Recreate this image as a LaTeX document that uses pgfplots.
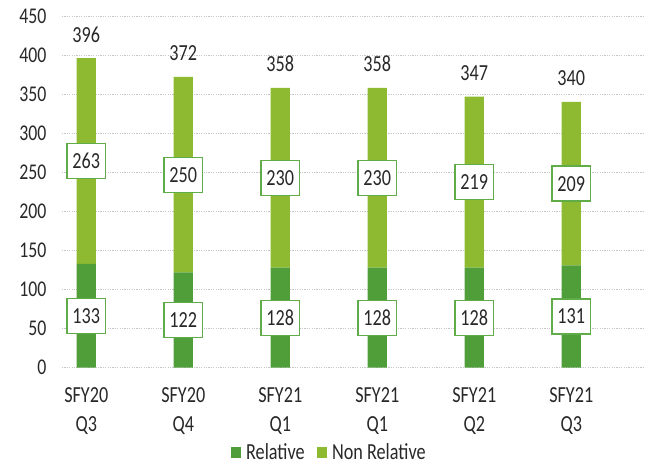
\documentclass[border=0pt]{standalone}
\usepackage{fontspec}
\setmainfont{Carlito}[FakeStretch=0.79]
\usepackage{pgfplots}
\pgfplotsset{compat=1.18}
\usepackage{pgfplotstable}
\usetikzlibrary{calc}
\definecolor{dg}{RGB}{80,158,58}
\definecolor{lg}{RGB}{141,186,48}
\definecolor{bx}{RGB}{95,172,72}
\definecolor{txt}{RGB}{40,40,40}
\pgfplotstableread{
x r n
0 133 263
1 122 250
2 128 230
3 128 230
4 128 219
5 131 209
}\data
\pgfplotsset{base/.style={
  scale only axis, width=582pt, height=351.7pt,
  xmin=-0.25, xmax=5.75, ymin=0, ymax=450,
  /pgf/number format/assume math mode=true,
}}
\begin{document}
\begin{tikzpicture}[font=\fontsize{23}{27}\selectfont]
\begin{axis}[base, ybar stacked, bar width=0.2,
  axis line style={draw=none}, major tick length=0,
  xtick style={draw=none}, ytick style={draw=none},
  ytick={0,50,...,450}, xtick={0,...,5},
  xticklabels={SFY20\\Q3, SFY20\\Q4, SFY21\\Q1, SFY21\\Q1, SFY21\\Q2, SFY21\\Q3},
  xticklabel style={align=center, font=\fontsize{23}{29}\selectfont, text=txt, yshift=-16pt},
  yticklabel style={text=txt, xshift=-12pt, font=\fontsize{22.5}{27}\selectfont},
  ymajorgrids, grid style={gray!45, line width=0.8pt, dash pattern=on 1.2pt off 1.2pt},
  legend style={draw=none, fill=none, at={(0.459,-0.2397)}, anchor=center, legend columns=2,
    font=\fontsize{23}{27}\selectfont, text=txt,
    /tikz/every odd column/.append style={column sep=3.5pt},
    /tikz/every even column/.append style={column sep=10pt}},
  legend image code/.code={\fill[#1] (0pt,-5.5pt) rectangle (10pt,5.5pt);},
]
\addplot[fill=dg, draw=none] table[x=x,y=r]{\data};
\addplot[fill=lg, draw=none] table[x=x,y=n]{\data};
\legend{Relative, Non Relative}
\end{axis}
\begin{axis}[base, hide axis, clip=false,
  every node near coord/.style={anchor=center, text=txt}]
\addplot[draw=none, mark=none, nodes near coords, point meta=explicit,
  nodes near coords style={draw=bx, fill=white, line width=1.3pt, inner xsep=5.5pt, minimum height=35pt}]
  table[x=x, y expr=\thisrow{r}/2, meta=r]{\data};
\addplot[draw=none, mark=none, nodes near coords, point meta=explicit,
  nodes near coords style={draw=bx, fill=white, line width=1.3pt, inner xsep=5.5pt, minimum height=35pt}]
  table[x=x, y expr=\thisrow{r}+\thisrow{n}/2, meta=n]{\data};
\addplot[draw=none, mark=none, nodes near coords, point meta={\thisrow{r}+\thisrow{n}},
  nodes near coords style={yshift=23.7pt}]
  table[x=x, y expr=\thisrow{r}+\thisrow{n}]{\data};
\end{axis}
\pgfresetboundingbox
\path ($(current axis.south west)+(-62pt,-96.3pt)$) rectangle ($(current axis.north east)+(8pt,16pt)$);
\end{tikzpicture}
\end{document}
